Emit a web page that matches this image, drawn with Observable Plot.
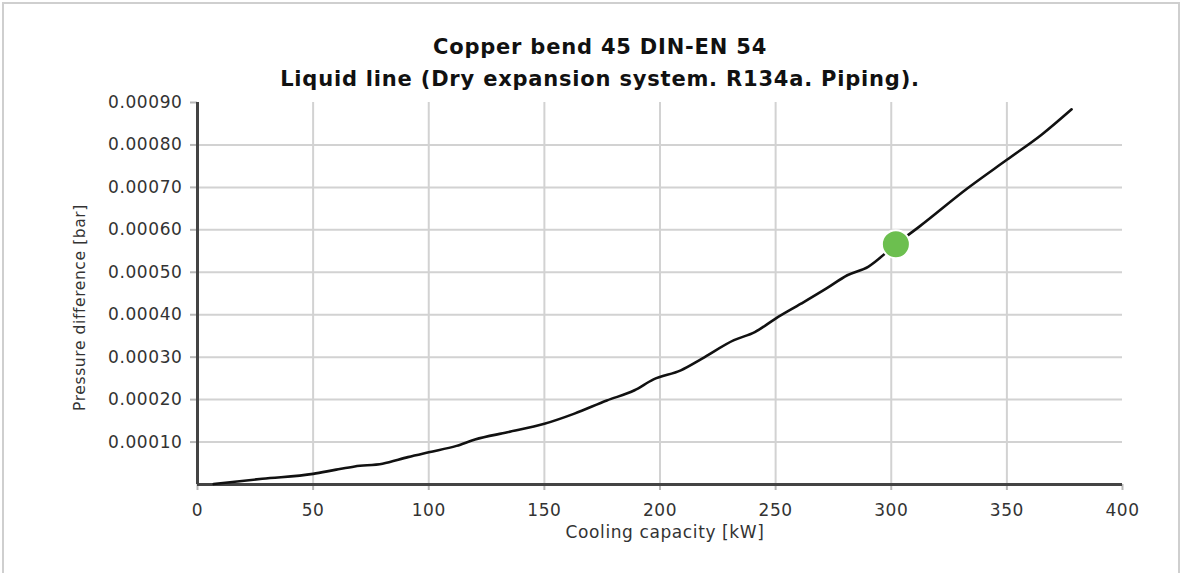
<!DOCTYPE html>
<html>
<head>
<meta charset="utf-8">
<script src="https://cdn.jsdelivr.net/npm/d3@7"></script>
<script src="https://cdn.jsdelivr.net/npm/@observablehq/plot@0.6"></script>
<style>
  html, body { margin: 0; padding: 0; background: #fff; }
  body { width: 1181px; height: 573px; position: relative; overflow: hidden; font-family: "DejaVu Sans", Verdana, sans-serif; }
  #frame { position: absolute; left: 2px; top: 2px; width: 1174px; height: 580px; border: 2px solid #cfcfcf; pointer-events: none; }
  #title { position: absolute; left: 0; top: 0; width: 1162px; padding-left: 19px; padding-top: 31px; height: 60px;
           text-align: center; font-weight: bold; font-size: 21px; letter-spacing: 0.8px; line-height: 32px; color: #111; }
  #chart { position: absolute; left: 0; top: 90px; }
</style>
</head>
<body>
<div id="frame"></div>
<div id="title">Copper bend 45 DIN-EN 54<br>Liquid line (Dry expansion system. R134a. Piping).</div>
<div id="chart"></div>
<script>
// Curve
const capacity = [7, 28, 50, 60, 68, 80, 91, 100, 112, 120, 134, 150, 163, 177, 189, 197, 209, 218, 232, 241, 250, 261, 272, 281, 290, 302, 312, 333, 350, 365, 378];
const pressure = [0.000001, 0.0000135, 0.000025, 0.000035, 0.0000425, 0.000049, 0.0000645, 0.000076, 0.000091, 0.000106, 0.000123, 0.000143, 0.000167, 0.000198, 0.000222, 0.000247, 0.000269, 0.000296, 0.00034, 0.000359, 0.000391, 0.000426, 0.000462, 0.000493, 0.000513, 0.000566, 0.000607, 0.000698, 0.000765, 0.000824, 0.000884];
// Operating point
const pointCapacity = [302];
const pointPressure = [0.000566];
// Ticks
const xTicks = [0, 50, 100, 150, 200, 250, 300, 350, 400];
const yTicks = [0.0001, 0.0002, 0.0003, 0.0004, 0.0005, 0.0006, 0.0007, 0.0008, 0.0009];
const xGrid = [50, 100, 150, 200, 250, 300, 350];
const yGrid = [0.0001, 0.0002, 0.0003, 0.0004, 0.0005, 0.0006, 0.0007, 0.0008];
const xLabel = "Cooling capacity [kW]";
const yLabel = "Pressure difference [bar]";

const curve = capacity.map((c, i) => ({c, p: pressure[i]}));
const point = pointCapacity.map((c, i) => ({c, p: pointPressure[i]}));

const plot = Plot.plot({
  width: 1181,
  height: 483,
  marginTop: 12,
  marginBottom: 89,
  marginLeft: 197,
  marginRight: 59,
  style: {fontFamily: "'DejaVu Sans', Verdana, sans-serif", fontSize: "17px", letterSpacing: "0.6px", color: "#333", background: "transparent", overflow: "visible"},
  x: {domain: [0, 400]},
  y: {domain: [0, 0.0009]},
  marks: [
    Plot.ruleX(xGrid, {y1: 0, y2: 0.0009, stroke: "#d2d2d2", strokeWidth: 2}),
    Plot.ruleY(yGrid, {x1: 0, x2: 400, stroke: "#d2d2d2", strokeWidth: 2}),
    Plot.axisX({ticks: xTicks, tickSize: 6, tickPadding: 13, stroke: "#b8b8b8", fill: "#333", strokeWidth: 2, label: null, tickFormat: d3.format("d")}),
    Plot.axisY({ticks: yTicks, tickSize: 7, tickPadding: 8, stroke: "#b8b8b8", fill: "#333", strokeWidth: 2, label: null, tickFormat: d3.format(".5f")}),
    Plot.ruleX([0], {y1: 0, y2: 0.0009, stroke: "#444", strokeWidth: 3}),
    Plot.ruleY([0], {x1: 0, x2: 400, stroke: "#444", strokeWidth: 3}),
    Plot.line(curve, {x: "c", y: "p", stroke: "#111", strokeWidth: 2.6, curve: "monotone-x"}),
    Plot.dot(point, {x: "c", y: "p", r: 14, fill: "#6cbf4f", stroke: "#fff", strokeWidth: 2}),
    Plot.text([xLabel], {text: d => d, frameAnchor: "bottom", dx: 5, dy: 53, fill: "#333", fontSize: 17, ariaLabel: "xlabel"}),
    Plot.text([yLabel], {text: d => d, frameAnchor: "left", textAnchor: "middle", rotate: -90, dx: -117, dy: 14, fill: "#333", fontSize: 15.5, ariaLabel: "ylabel"})
  ]
});
document.getElementById("chart").appendChild(plot);
d3.select(plot).selectAll('g[aria-label="ylabel"] text').style("letter-spacing", "0px");
d3.select(plot).selectAll('g[aria-label="xlabel"] text').style("letter-spacing", "0.9px");
</script>
</body>
</html>
